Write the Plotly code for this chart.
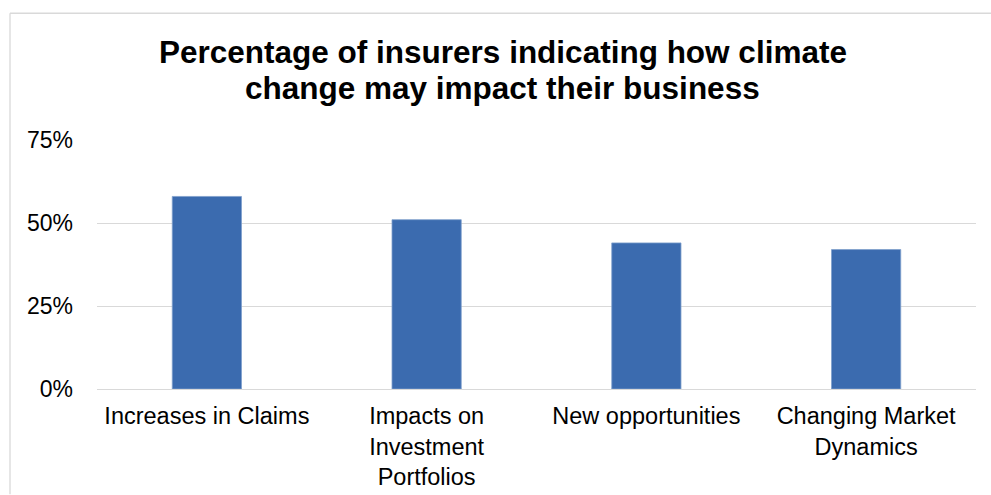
import plotly.graph_objects as go

categories = ["Increases in Claims", "Impacts on<br>Investment<br>Portfolios",
              "New opportunities", "Changing Market<br>Dynamics"]
values = [58, 51, 44, 42]
tick_vals = [0, 25, 50, 75]
tick_text = ["0%", "25%", "50%", "75%"]
title_lines = ["Percentage of insurers indicating how climate",
               "change may impact their business"]

W, H = 991, 495
L, R, T, B = 97, W - 976, 140, H - 389.5
pw = W - L - R
ph = H - T - B

def px_x(p):
    return (p - L) / pw

def px_y(p):
    return (H - B - p) / ph

fig = go.Figure(go.Bar(
    x=categories, y=values,
    marker=dict(color="#3B6BAF", line=dict(color="#7F9FCC", width=0.8)),
    width=0.315,
))

fig.update_layout(
    width=W, height=H,
    margin=dict(l=L, r=R, t=T, b=B, autoexpand=False),
    paper_bgcolor="white", plot_bgcolor="white",
    font=dict(family="Liberation Sans, Arial, sans-serif", size=24, color="#000000"),
    showlegend=False,
)
for line, ypx in zip(title_lines, [52, 87.5]):
    fig.add_annotation(text="<b>" + line + "</b>", xref="paper", yref="paper",
                       x=px_x(502.5), y=px_y(ypx), xanchor="center", yanchor="middle",
                       showarrow=False, font=dict(size=31.5, color="#000000"))

fig.update_yaxes(range=[0, 75], tickvals=tick_vals, ticktext=tick_text,
                 showgrid=True, gridcolor="#D9D9D9", gridwidth=1.3,
                 zeroline=False, showline=False, ticklabelstandoff=23,
                 tickfont=dict(size=23), fixedrange=True, automargin=False)
fig.update_xaxes(showline=True, linecolor="#D9D9D9", linewidth=1.3,
                 showgrid=False, ticks="", ticklabelstandoff=6, tickangle=0,
                 tickfont=dict(size=23.5),
                 automargin=False, fixedrange=True)

# outer chart border (left and top edges visible in the frame)
fig.add_shape(type="line", xref="paper", yref="paper",
              x0=px_x(10), x1=px_x(10), y0=px_y(495), y1=px_y(13),
              line=dict(color="#D9D9D9", width=1.3), layer="below")
fig.add_shape(type="line", xref="paper", yref="paper",
              x0=px_x(10), x1=px_x(991), y0=px_y(13), y1=px_y(13),
              line=dict(color="#D9D9D9", width=1.3), layer="below")

fig.write_html(
    "out.html",
    config={"displayModeBar": False},
    post_script="document.body.style.margin='0';"
                "document.body.style.overflow='hidden';"
                "document.documentElement.style.overflow='hidden';",
)
